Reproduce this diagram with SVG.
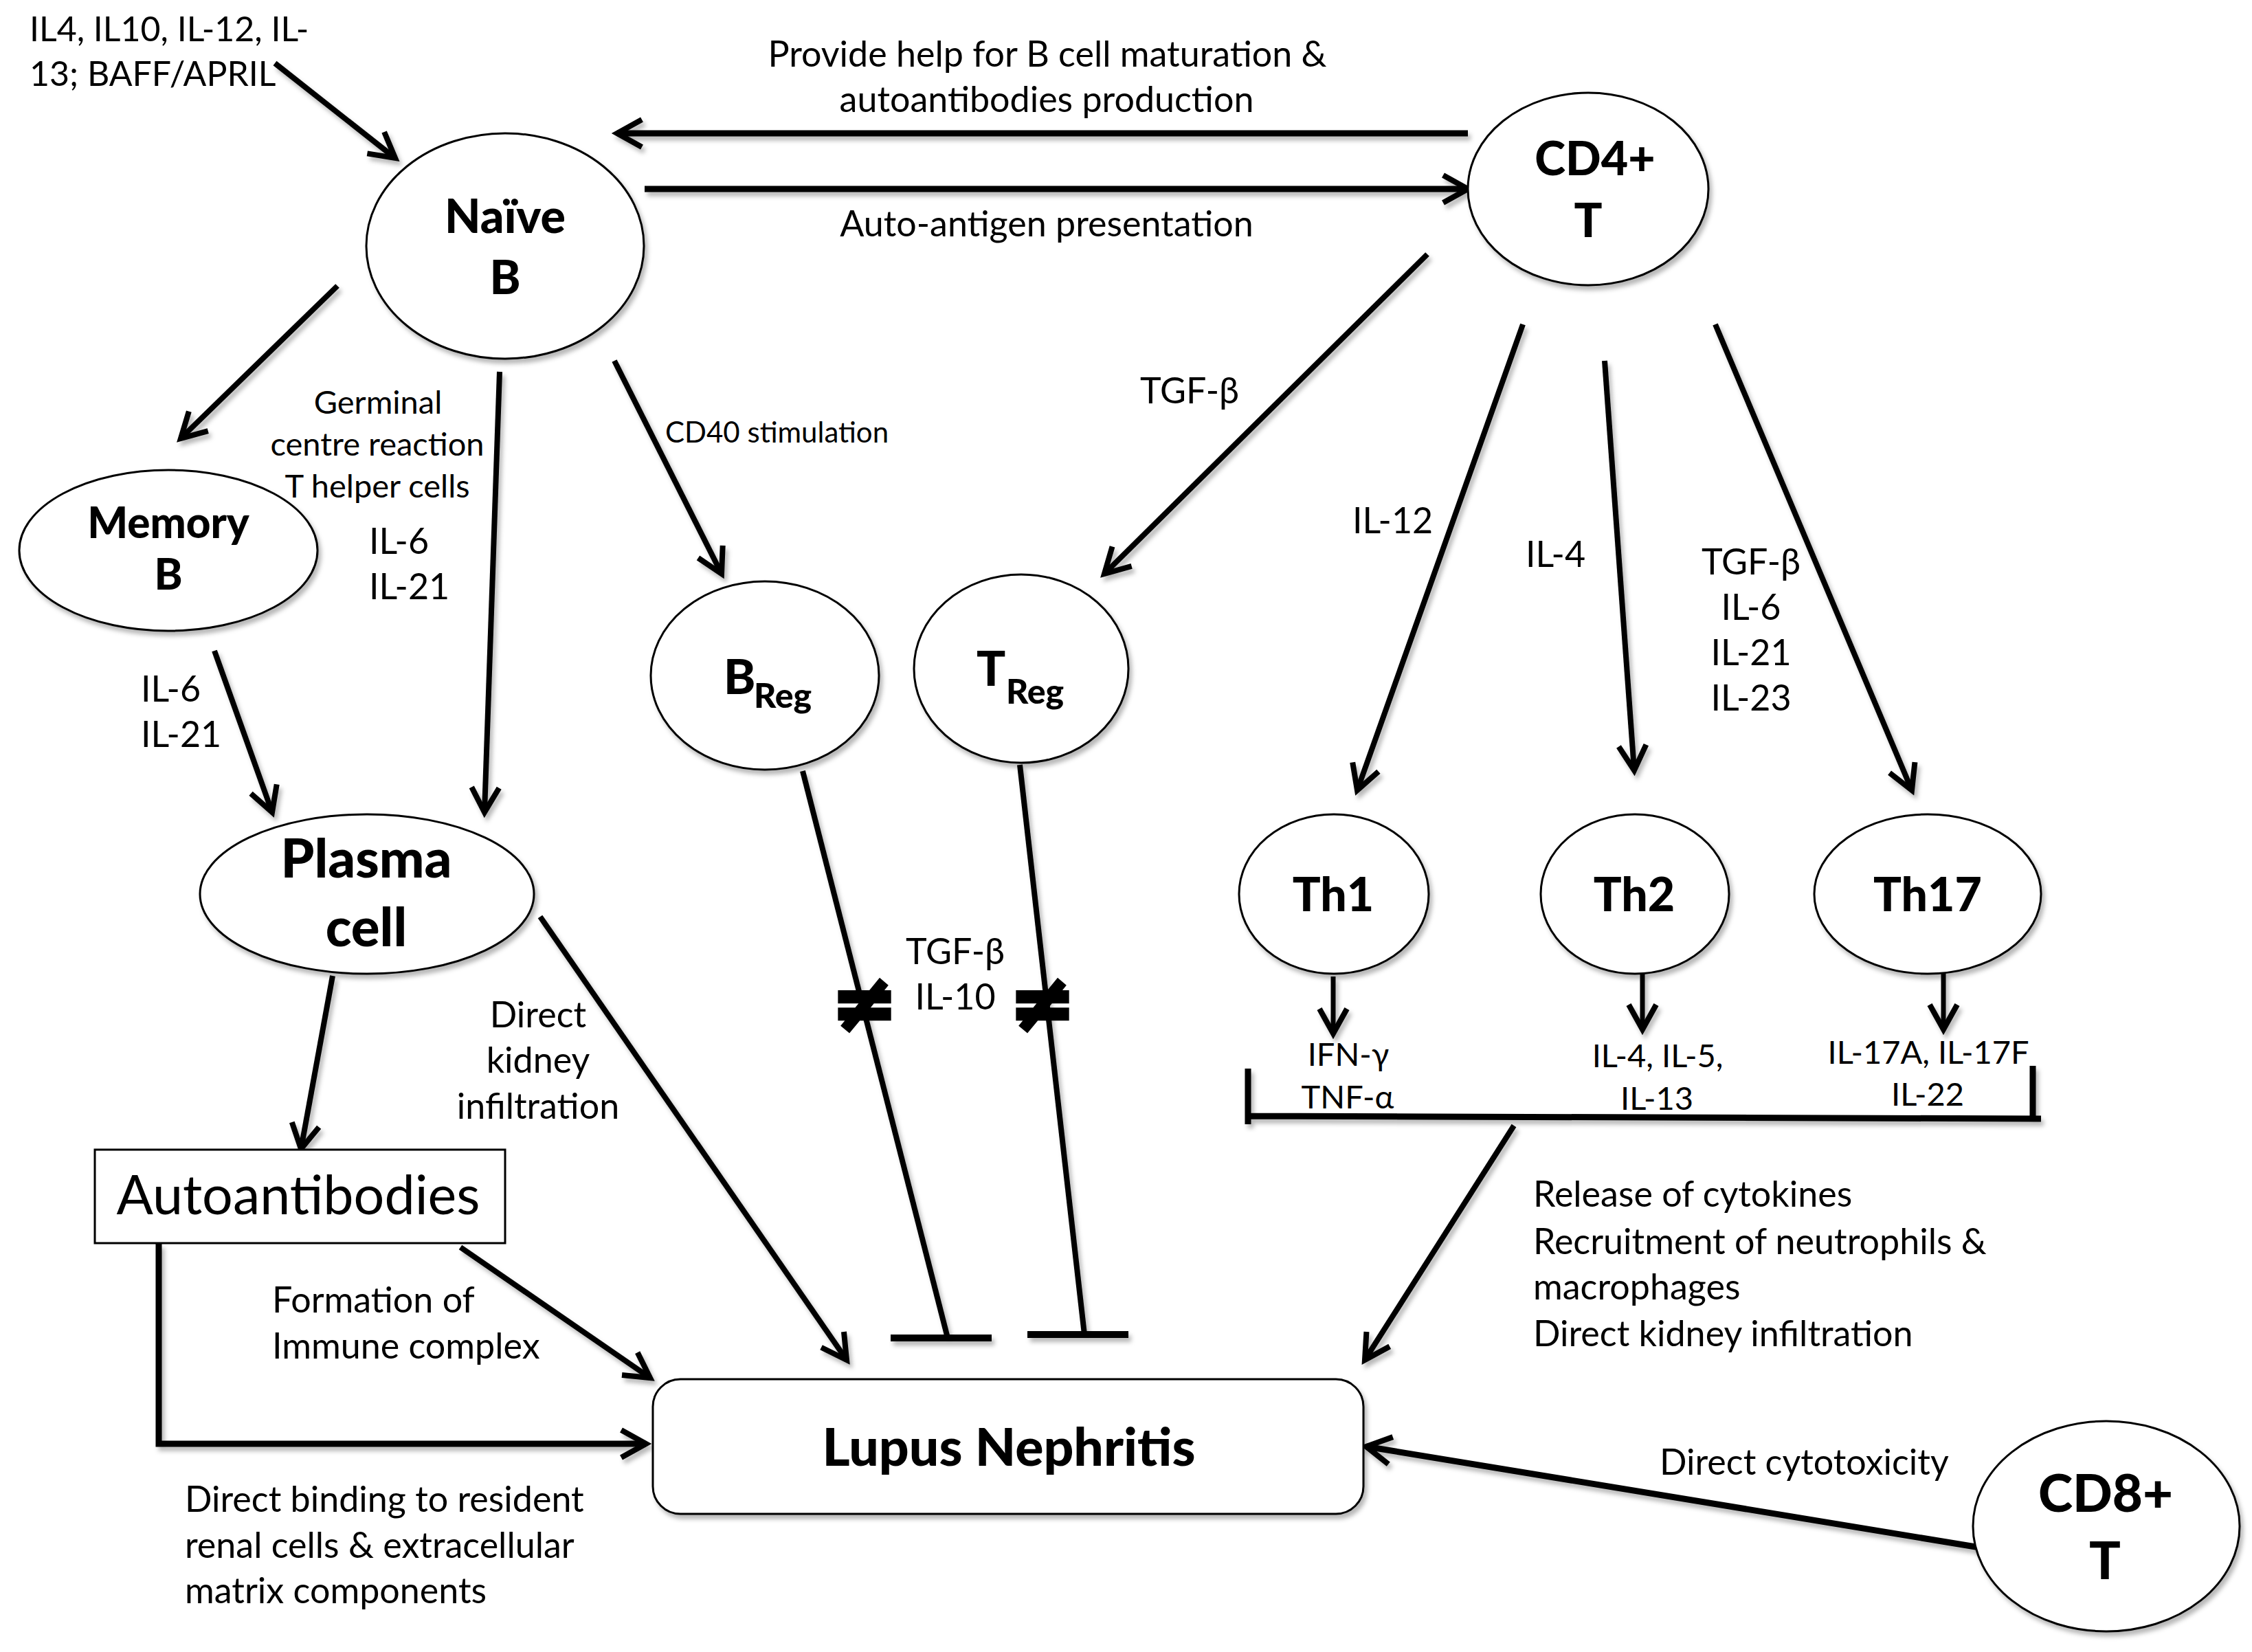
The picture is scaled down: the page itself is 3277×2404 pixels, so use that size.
<svg xmlns="http://www.w3.org/2000/svg" width="3277" height="2404" viewBox="0 0 3277 2404">
<defs>
<style>
.t{font-family:Lato,"Liberation Sans",sans-serif;fill:#000;font-size:52px}
.s{font-size:47px}
.xs{font-size:42px}
.b{font-family:Lato,"Liberation Sans",sans-serif;font-weight:900;fill:#000}
.m{text-anchor:middle}
.shape{fill:#fff;stroke:#000;stroke-width:3}
.ln{fill:none;stroke:#000;stroke-width:8;stroke-linecap:butt}
.arr{marker-end:url(#ah)}
.bar{fill:none;stroke:#000;stroke-width:10}
.ne{font-family:"DejaVu Sans",sans-serif;font-weight:bold;font-size:114px;fill:#000;stroke:#000;stroke-width:6;text-anchor:middle}
</style>
<marker id="ah" markerUnits="userSpaceOnUse" orient="auto" refX="0" refY="0" overflow="visible">
<path d="M-36,-20 L0,0 L-36,20" fill="none" stroke="#000" stroke-width="8" stroke-linejoin="miter"/>
</marker>
<filter id="sh" x="-10%" y="-10%" width="120%" height="120%">
<feDropShadow dx="4" dy="6" stdDeviation="3" flood-color="#000" flood-opacity="0.28"/>
</filter>
</defs>
<rect width="3277" height="2404" fill="#fff"/>

<g id="connectors" filter="url(#sh)">
<path class="ln arr" d="M400,92 L575,230"/>
<path class="ln arr" d="M2136,194 L898,194" style="stroke-width:9"/>
<path class="ln arr" d="M938,275 L2136,275" style="stroke-width:9"/>
<path class="ln arr" d="M491,416 L263,638"/>
<path class="ln arr" d="M727,541 L705,1182"/>
<path class="ln arr" d="M894,525 L1050,835"/>
<path class="ln arr" d="M2077,370 L1607,835"/>
<path class="ln arr" d="M2216,472 L1975,1150"/>
<path class="ln arr" d="M2335,525 L2378,1121"/>
<path class="ln arr" d="M2496,472 L2782,1150"/>
<path class="ln arr" d="M312,947 L396,1182"/>
<path class="ln arr" d="M484,1420 L438,1672"/>
<path class="ln arr" d="M786,1334 L1232,1979"/>
<path class="ln arr" d="M670,1815 L946,2005"/>
<path class="ln arr" d="M231,1810 L231,2101 L940,2101" style="stroke-width:9"/>
<path class="ln arr" d="M1940,1421 L1940,1504" style="stroke-width:7"/>
<path class="ln arr" d="M2390,1416 L2390,1498" style="stroke-width:7"/>
<path class="ln arr" d="M2828,1416 L2828,1498" style="stroke-width:7"/>
<path class="ln" d="M1816,1555 L1816,1636 M1812,1624 L2970,1628 M2958,1551 L2958,1628" style="stroke-width:9"/>
<path class="ln arr" d="M2203,1638 L1986,1979"/>
<path class="ln arr" d="M2881,2252 L1988,2105" style="stroke-width:9"/>
<path class="ln" d="M1168,1122 L1379,1947"/>
<path class="bar" d="M1296,1947 L1443,1947"/>
<path class="ln" d="M1484,1113 L1578,1942"/>
<path class="bar" d="M1495,1942 L1642,1942"/>
</g>
<g id="blockmarks">
<text class="ne" x="1258" y="1499">≠</text>
<text class="ne" x="1517" y="1499">≠</text>
</g>

<g id="naive-b"><ellipse class="shape" cx="735" cy="358" rx="202" ry="164" filter="url(#sh)"/>
<text class="b m" x="735" y="339" style="font-size:68px">Naïve</text><text class="b m" x="735" y="428" style="font-size:68px">B</text></g>

<g id="cd4-t"><ellipse class="shape" cx="2311" cy="275" rx="175" ry="140" filter="url(#sh)"/>
<text class="b m" x="2321" y="255" style="font-size:68px">CD4+</text><text class="b m" x="2311" y="345" style="font-size:68px">T</text></g>

<g id="memory-b"><ellipse class="shape" cx="245" cy="801" rx="217" ry="117" filter="url(#sh)"/>
<text class="b m" x="245" y="783" style="font-size:62px">Memory</text><text class="b m" x="245" y="858" style="font-size:62px">B</text></g>

<g id="b-reg"><ellipse class="shape" cx="1113" cy="983" rx="166" ry="137" filter="url(#sh)"/>
<text class="b" x="1053" y="1010" style="font-size:70px">B<tspan x="1097" y="1030" style="font-size:50px">Reg</tspan></text></g>

<g id="t-reg"><ellipse class="shape" cx="1486" cy="973" rx="156" ry="137" filter="url(#sh)"/>
<text class="b" x="1421" y="998" style="font-size:70px">T<tspan x="1464" y="1024" style="font-size:50px">Reg</tspan></text></g>

<g id="plasma-cell"><ellipse class="shape" cx="534" cy="1301" rx="243" ry="116" filter="url(#sh)"/>
<text class="b m" x="533" y="1277" style="font-size:78px">Plasma</text><text class="b m" x="533" y="1377" style="font-size:78px">cell</text></g>

<g id="th1"><ellipse class="shape" cx="1941" cy="1301" rx="138" ry="116" filter="url(#sh)"/>
<text class="b m" x="1940" y="1326" style="font-size:68px">Th1</text></g>
<g id="th2"><ellipse class="shape" cx="2379" cy="1301" rx="137" ry="116" filter="url(#sh)"/>
<text class="b m" x="2378" y="1326" style="font-size:68px">Th2</text></g>
<g id="th17"><ellipse class="shape" cx="2805" cy="1301" rx="165" ry="116" filter="url(#sh)"/>
<text class="b m" x="2805" y="1326" style="font-size:68px">Th17</text></g>

<g id="autoantibodies"><rect class="shape" x="138" y="1673" width="597" height="136"/>
<text class="t m" x="434" y="1767" style="font-size:79px">Autoantibodies</text></g>

<g id="lupus-nephritis"><rect class="shape" x="950" y="2007" width="1034" height="196" rx="40" ry="40" filter="url(#sh)"/>
<text class="b m" x="1468" y="2133" style="font-size:77px">Lupus Nephritis</text></g>

<g id="cd8-t"><ellipse class="shape" cx="3065" cy="2221" rx="194" ry="153" filter="url(#sh)"/>
<text class="b m" x="3064" y="2200" style="font-size:76px">CD8+</text><text class="b m" x="3063" y="2298" style="font-size:76px">T</text></g>

<g id="labels">
<text class="t" x="43" y="60" style="font-size:50px">IL4, IL10, IL-12, IL-</text>
<text class="t" x="43" y="125" style="font-size:50px">13; BAFF/APRIL</text>
<text class="t m" x="1524" y="97">Provide help for B cell maturation &amp;</text>
<text class="t m" x="1523" y="163">autoantibodies production</text>
<text class="t m" x="1523" y="344">Auto-antigen presentation</text>
<text class="t s m" x="550" y="602">Germinal</text>
<text class="t s m" x="549" y="663">centre reaction</text>
<text class="t s m" x="549" y="724">T helper cells</text>
<text class="t" x="537" y="806">IL-6</text>
<text class="t" x="537" y="872">IL-21</text>
<text class="t" x="205" y="1021">IL-6</text>
<text class="t" x="205" y="1087">IL-21</text>
<text class="t xs" x="968" y="644">CD40 stimulation</text>
<text class="t" x="1659" y="587">TGF-β</text>
<text class="t" x="1968" y="776">IL-12</text>
<text class="t" x="2220" y="825">IL-4</text>
<text class="t m" x="2548" y="836">TGF-β</text>
<text class="t m" x="2548" y="902">IL-6</text>
<text class="t m" x="2548" y="968">IL-21</text>
<text class="t m" x="2548" y="1034">IL-23</text>
<text class="t m" x="783" y="1495">Direct</text>
<text class="t m" x="783" y="1561">kidney</text>
<text class="t m" x="783" y="1628">infiltration</text>
<text class="t m" x="1390" y="1403">TGF-β</text>
<text class="t m" x="1390" y="1469">IL-10</text>
<text class="t s m" x="1962" y="1551">IFN-γ</text>
<text class="t s m" x="1961" y="1613">TNF-α</text>
<text class="t s m" x="2412" y="1553">IL-4, IL-5,</text>
<text class="t s m" x="2411" y="1615">IL-13</text>
<text class="t s m" x="2806" y="1548">IL-17A, IL-17F</text>
<text class="t s m" x="2805" y="1609">IL-22</text>
<text class="t" x="396" y="1910">Formation of</text>
<text class="t" x="396" y="1977">Immune complex</text>
<text class="t" x="269" y="2200">Direct binding to resident</text>
<text class="t" x="269" y="2267">renal cells &amp; extracellular</text>
<text class="t" x="269" y="2333">matrix components</text>
<text class="t" x="2231" y="1756">Release of cytokines</text>
<text class="t" x="2231" y="1825">Recruitment of neutrophils &amp;</text>
<text class="t" x="2231" y="1891">macrophages</text>
<text class="t" x="2231" y="1959">Direct kidney infiltration</text>
<text class="t" x="2415" y="2146">Direct cytotoxicity</text>
</g>
</svg>
